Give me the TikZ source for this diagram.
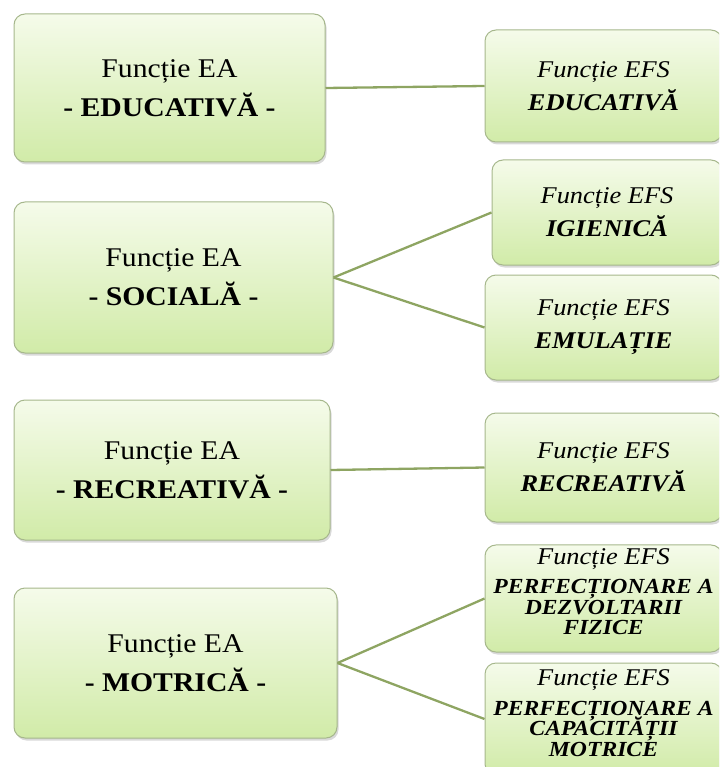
\documentclass[tikz,border=0pt]{standalone}
\usepackage{fontspec}
\setmainfont{Liberation Serif}[FakeStretch=1.1]
\usetikzlibrary{shadows}
\definecolor{boxtop}{HTML}{F5FBEA}
\definecolor{boxbot}{HTML}{D1EBA8}
\definecolor{boxline}{HTML}{A6B78C}
\definecolor{linkgreen}{HTML}{8EA562}
\newcommand{\tightlines}{\lineskiplimit=-20pt\relax}
\tikzset{fbox/.style = {draw=boxline, line width=1pt, rounded corners=11,
                        top color=boxtop, bottom color=boxbot, align=center,
                        drop shadow={opacity=0.3, shadow xshift=1.5pt, shadow yshift=-2.5pt}}}
\tikzset{eabox/.style = {fbox, font=\fontsize{27}{39}\selectfont}}
\tikzset{efsbox/.style = {fbox, font=\fontsize{24}{33}\selectfont\itshape}}
\tikzset{efssmall/.style = {fbox, font={\fontsize{21.5}{20.5}\selectfont\itshape\tightlines}}}
\tikzset{link/.style = {draw=linkgreen, line width=2.3pt}}

\begin{document}
\begin{tikzpicture}[x=1pt, y=-1pt]
    \useasboundingbox (0, 0) rectangle (719, 767);
    \clip (0, 0) rectangle (719, 767);

    \node [eabox, minimum width=311, minimum height=148] (ea1) at (169.5, 88) {Funcție EA\\ \textbf{- EDUCATIVĂ -}};
    \node [eabox, minimum width=319, minimum height=151] (ea2) at (173.5, 277.5) {Funcție EA\\ \textbf{- SOCIALĂ -}};
    \node [eabox, minimum width=316, minimum height=140] (ea3) at (172, 470) {Funcție EA\\ \textbf{- RECREATIVĂ -}};
    \node [eabox, minimum width=323, minimum height=150] (ea4) at (175.5, 663) {Funcție EA\\ \textbf{- MOTRICĂ -}};

    \node [efsbox, minimum width=237, minimum height=112] (efs1) at (603.5, 86) {Funcție EFS\\ \textbf{EDUCATIVĂ}};
    \node [efsbox, minimum width=230, minimum height=105] (efs2) at (607, 212.5) {Funcție EFS\\ \textbf{IGIENICĂ}};
    \node [efsbox, minimum width=237, minimum height=105] (efs3) at (603.5, 327.5) {Funcție EFS\\ \textbf{EMULAȚIE}};
    \node [efsbox, minimum width=237, minimum height=109] (efs4) at (603.5, 467.5) {Funcție EFS\\ \textbf{RECREATIVĂ}};
    \node [efssmall, minimum width=237, minimum height=107, text depth=14pt] (efs5) at (603.5, 598.5)
        {{\fontsize{24}{24}\selectfont Funcție EFS}\\[9pt] \textbf{PERFECȚIONARE A}\\ \textbf{DEZVOLTARII}\\ \textbf{FIZICE}};
    \node [efssmall, minimum width=237, minimum height=112, text depth=12pt] (efs6) at (603.5, 719)
        {{\fontsize{24}{24}\selectfont Funcție EFS}\\[9pt] \textbf{PERFECȚIONARE A}\\ \textbf{CAPACITĂȚII}\\ \textbf{MOTRICE}};

    \draw [link] (ea1.east) -- (efs1.west);
    \draw [link] (ea2.east) -- (efs2.west);
    \draw [link] (ea2.east) -- (efs3.west);
    \draw [link] (ea3.east) -- (efs4.west);
    \draw [link] (ea4.east) -- (efs5.west);
    \draw [link] (ea4.east) -- (efs6.west);
\end{tikzpicture}
\end{document}
